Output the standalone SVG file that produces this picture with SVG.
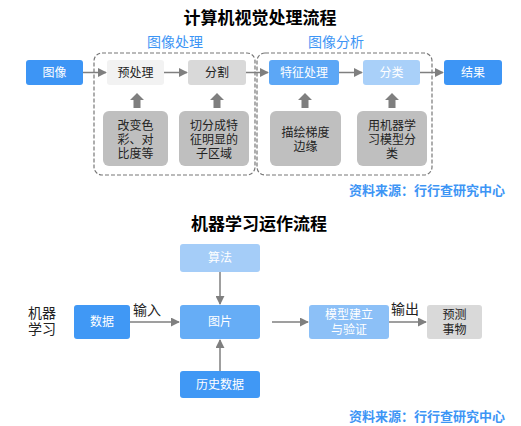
<svg xmlns="http://www.w3.org/2000/svg" width="521" height="426" viewBox="0 0 521 426">
<defs>
<marker id="ah" viewBox="0 0 10 10" refX="9" refY="5" markerWidth="9" markerHeight="9" markerUnits="userSpaceOnUse" orient="auto"><path d="M0,0 L10,5 L0,10 z" fill="#7f7f7f"/></marker>
<path id="up" d="M0,0 L7,7 L3.5,7 L3.5,15 L-3.5,15 L-3.5,7 L-7,7 z" fill="#7f7f7f"/>
</defs>
<style>
text{font-family:"Liberation Sans","Noto Sans CJK SC",sans-serif;}
.t{font-size:17px;font-weight:bold;fill:#000;text-anchor:middle;}
.g{font-size:14px;fill:#3d95f5;text-anchor:middle;}
.w{font-size:12px;fill:#fff;text-anchor:middle;}
.k{font-size:12px;fill:#222;text-anchor:middle;}
.s{font-size:13px;font-weight:bold;fill:#3d95f5;text-anchor:end;}
.l{font-size:14px;fill:#222;}
.c{stroke:#7f7f7f;stroke-width:1.5;fill:none;marker-end:url(#ah);}
.d{fill:none;stroke:#777;stroke-width:1.2;stroke-dasharray:4 2;}
</style>
<rect width="521" height="426" fill="#fff"/>
<text class="t" x="260" y="24">计算机视觉处理流程</text>
<text class="g" x="175" y="47">图像处理</text>
<text class="g" x="336" y="47">图像分析</text>
<rect class="d" x="94" y="53" width="161" height="122" rx="8"/>
<rect class="d" x="257" y="53" width="175" height="122" rx="8"/>
<g id="connectors">
<line class="c" x1="83" y1="72.5" x2="106" y2="72.5"/>
<line class="c" x1="164" y1="72.5" x2="187" y2="72.5"/>
<line class="c" x1="246" y1="72.5" x2="268" y2="72.5"/>
<line class="c" x1="339" y1="72.5" x2="362" y2="72.5"/>
<line class="c" x1="420" y1="72.5" x2="443" y2="72.5"/>
<use href="#up" x="137" y="93"/>
<use href="#up" x="217" y="93"/>
<use href="#up" x="305" y="93"/>
<use href="#up" x="392" y="93"/>
<line class="c" x1="130" y1="322" x2="179" y2="322"/>
<line class="c" x1="220" y1="272" x2="220" y2="304"/>
<line class="c" x1="220" y1="371" x2="220" y2="340"/>
<line class="c" x1="272" y1="322" x2="308" y2="322"/>
<line class="c" x1="389" y1="322" x2="426" y2="322"/>
</g>
<g id="n-tuxiang"><rect x="26" y="60" width="57" height="25" rx="3" fill="#3d95f5"/><text class="w" x="54.5" y="77">图像</text></g>
<g id="n-yuchuli"><rect x="107" y="60" width="57" height="25" rx="3" fill="#f2f2f2"/><text class="k" x="135.5" y="77">预处理</text></g>
<g id="n-fenge"><rect x="188" y="60" width="58" height="25" rx="3" fill="#d9d9d9"/><text class="k" x="217" y="77">分割</text></g>
<g id="n-tezheng"><rect x="269" y="60" width="70" height="25" rx="3" fill="#5ca7f6"/><text class="w" x="304" y="77">特征处理</text></g>
<g id="n-fenlei"><rect x="363" y="60" width="57" height="25" rx="3" fill="#a9d0f9"/><text class="w" x="391.5" y="77">分类</text></g>
<g id="n-jieguo"><rect x="444" y="60" width="58" height="25" rx="3" fill="#3d95f5"/><text class="w" x="473" y="77">结果</text></g>
<g id="n-g1"><rect x="103" y="111" width="65" height="55" rx="6" fill="#bfbfbf"/><text class="k" x="135.5" y="130">改变色</text><text class="k" x="135.5" y="144">彩、对</text><text class="k" x="135.5" y="158">比度等</text></g>
<g id="n-g2"><rect x="179" y="111" width="70" height="55" rx="6" fill="#bfbfbf"/><text class="k" x="214" y="130">切分成特</text><text class="k" x="214" y="144">征明显的</text><text class="k" x="214" y="158">子区域</text></g>
<g id="n-g3"><rect x="270" y="111" width="71" height="55" rx="6" fill="#bfbfbf"/><text class="k" x="305.5" y="137">描绘梯度</text><text class="k" x="305.5" y="151">边缘</text></g>
<g id="n-g4"><rect x="357" y="111" width="70" height="55" rx="6" fill="#bfbfbf"/><text class="k" x="392" y="130">用机器学</text><text class="k" x="392" y="144">习模型分</text><text class="k" x="392" y="158">类</text></g>
<text class="s" x="505" y="195">资料来源：行行查研究中心</text>
<text class="t" x="259" y="230">机器学习运作流程</text>
<text class="l" x="28" y="318">机器</text>
<text class="l" x="28" y="334">学习</text>
<text class="l" x="133" y="315">输入</text>
<text class="l" x="391" y="314">输出</text>
<g id="n-suanfa"><rect x="180" y="244" width="80" height="28" rx="3" fill="#a5cdf8"/><text class="w" x="220" y="262">算法</text></g>
<g id="n-shuju"><rect x="74" y="305" width="56" height="34" rx="3" fill="#4098f5"/><text class="w" x="102" y="326">数据</text></g>
<g id="n-tupian"><rect x="180" y="305" width="80" height="34" rx="3" fill="#66adf6"/><text class="w" x="220" y="326">图片</text></g>
<g id="n-lishi"><rect x="180" y="371" width="80" height="27" rx="3" fill="#4098f5"/><text class="w" x="220" y="389">历史数据</text></g>
<g id="n-moxing"><rect x="309" y="305" width="80" height="34" rx="3" fill="#8cc0f7"/><text class="w" x="349" y="319">模型建立</text><text class="w" x="349" y="334">与验证</text></g>
<g id="n-yuce"><rect x="427" y="305" width="55" height="34" rx="3" fill="#d9d9d9"/><text class="k" x="454.5" y="319">预测</text><text class="k" x="454.5" y="334">事物</text></g>
<text class="s" x="505" y="421">资料来源：行行查研究中心</text>
</svg>
